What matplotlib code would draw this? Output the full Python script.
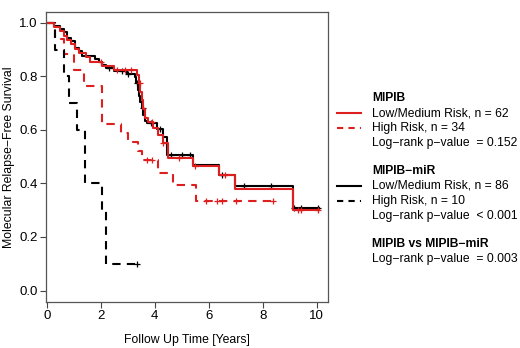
import matplotlib
matplotlib.use("Agg")
import matplotlib.pyplot as plt
from matplotlib.lines import Line2D

plt.rcParams["font.family"] = ["Liberation Sans", "DejaVu Sans"]

RED = "#dd1f1f"
DASH = (0, (4, 3))

# MIPIB low/medium risk (n = 62)
red_lo_t = [0, 0.28, 0.5, 0.62, 0.75, 0.9, 1.05, 1.2, 1.45, 1.6, 2.04, 2.47, 3.33, 3.4, 3.46,
            3.52, 3.58, 3.65, 3.76, 3.94, 4.1, 4.3, 4.5, 5.43, 6.36, 6.98, 9.13, 10.08]
red_lo_s = [1.0, 0.984, 0.968, 0.952, 0.935, 0.919, 0.903, 0.887, 0.871, 0.855, 0.839, 0.823,
            0.806, 0.774, 0.742, 0.71, 0.677, 0.645, 0.629, 0.607, 0.58, 0.55, 0.495, 0.465,
            0.43, 0.379, 0.302, 0.302]
red_lo_ct = [2.0, 2.6, 2.9, 3.1, 3.45, 3.9, 4.3, 4.9, 5.5, 6.6, 9.3, 9.4, 10.05]

# MIPIB high risk (n = 34)
red_hi_t = [0, 0.31, 0.62, 1.01, 1.36, 2.04, 2.74, 3.02, 3.39, 3.52, 4.13, 4.69, 5.53, 8.39]
red_hi_s = [1.0, 0.941, 0.882, 0.824, 0.765, 0.62, 0.59, 0.555, 0.52, 0.487, 0.44, 0.395,
            0.336, 0.336]
red_hi_ct = [3.7, 3.9, 5.9, 6.3, 6.5, 7.0, 8.39]

# MIPIB-miR low/medium risk (n = 86)
blk_lo_t = [0, 0.25, 0.5, 0.62, 0.75, 0.9, 1.05, 1.2, 1.3, 1.79, 1.95, 2.04, 2.2, 2.47, 2.96,
            3.27, 3.32, 3.38, 3.42, 3.47, 3.52, 3.58, 3.65, 3.72, 4.07, 4.32, 4.44, 5.43,
            6.36, 6.98, 9.13, 10.08]
blk_lo_s = [1.0, 0.988, 0.977, 0.965, 0.942, 0.93, 0.907, 0.895, 0.877, 0.866, 0.854, 0.843,
            0.831, 0.82, 0.808, 0.797, 0.774, 0.75, 0.727, 0.704, 0.68, 0.657, 0.634, 0.624,
            0.605, 0.575, 0.507, 0.468, 0.432, 0.39, 0.31, 0.31]
blk_lo_ct = [2.3, 2.8, 3.0, 3.35, 3.55, 3.85, 4.2, 4.6, 5.0, 5.3, 6.5, 7.3, 8.3, 9.15, 9.4, 10.05]

# MIPIB-miR high risk (n = 10)
blk_hi_t = [0, 0.3, 0.62, 0.83, 1.1, 1.4, 2.04, 2.19, 3.33]
blk_hi_s = [1.0, 0.9, 0.8, 0.7, 0.6, 0.4, 0.3, 0.1, 0.1]
blk_hi_ct = [3.33]


def surv_at(t, s, x):
    v = s[0]
    for ti, si in zip(t, s):
        if ti <= x:
            v = si
    return v


def km(ax, t, s, ct, color, ls):
    ax.step(t, s, where="post", color=color, lw=1.5, linestyle=ls)
    ax.plot(ct, [surv_at(t, s, c) for c in ct], linestyle="none", marker="+",
            color=color, ms=5, mew=0.9)


fig = plt.figure(figsize=(5.2, 3.48), dpi=100)
ax = fig.add_axes([0.089, 0.132, 0.542, 0.8335])

km(ax, red_hi_t, red_hi_s, red_hi_ct, RED, DASH)
km(ax, blk_hi_t, blk_hi_s, blk_hi_ct, "black", DASH)
km(ax, blk_lo_t, blk_lo_s, blk_lo_ct, "black", "-")
km(ax, red_lo_t, red_lo_s, red_lo_ct, RED, "-")

ax.set_xlim(-0.02, 10.42)
ax.set_ylim(-0.043, 1.04)
ax.set_xticks([0, 2, 4, 6, 8, 10])
ax.set_yticks([0.0, 0.2, 0.4, 0.6, 0.8, 1.0])
ax.set_yticklabels(["0.0", "0.2", "0.4", "0.6", "0.8", "1.0"])
ax.tick_params(labelsize=9.5, length=4, color="#444444", width=0.8, pad=2)
for sp in ax.spines.values():
    sp.set_color("#555555")
    sp.set_linewidth(0.9)
ax.set_xlabel("Follow Up Time [Years]", fontsize=8.8, labelpad=8)
ax.set_ylabel("Molecular Relapse\u2212Free Survival", fontsize=8.8, labelpad=3)

# legend block on the right
fs = 8.7
lx0, lx1, tx = 337 / 520, 361 / 520, 372 / 520


def row(y_px, text, bold=False):
    fig.text(tx, 1 - y_px / 348, text, fontsize=fs, va="center",
             fontweight="bold" if bold else "normal")


def key(y_px, color, ls):
    yy = 1 - y_px / 348
    fig.add_artist(Line2D([lx0, lx1], [yy, yy], color=color, lw=1.5,
                          linestyle=(0, (3, 2.5)) if ls != "-" else "-"))


row(98, "MIPIB", True)
key(113, RED, "-")
row(113, "Low/Medium Risk, n = 62")
key(128, RED, "--")
row(128, "High Risk, n = 34")
row(143, "Log\u2212rank p\u2212value  = 0.152")
row(171, "MIPIB\u2212miR", True)
key(186, "black", "-")
row(186, "Low/Medium Risk, n = 86")
key(201, "black", "--")
row(201, "High Risk, n = 10")
row(216, "Log\u2212rank p\u2212value  < 0.001")
row(244, "MIPIB vs MIPIB\u2212miR", True)
row(259, "Log\u2212rank p\u2212value  = 0.003")

fig.savefig("out.png", dpi=100)
